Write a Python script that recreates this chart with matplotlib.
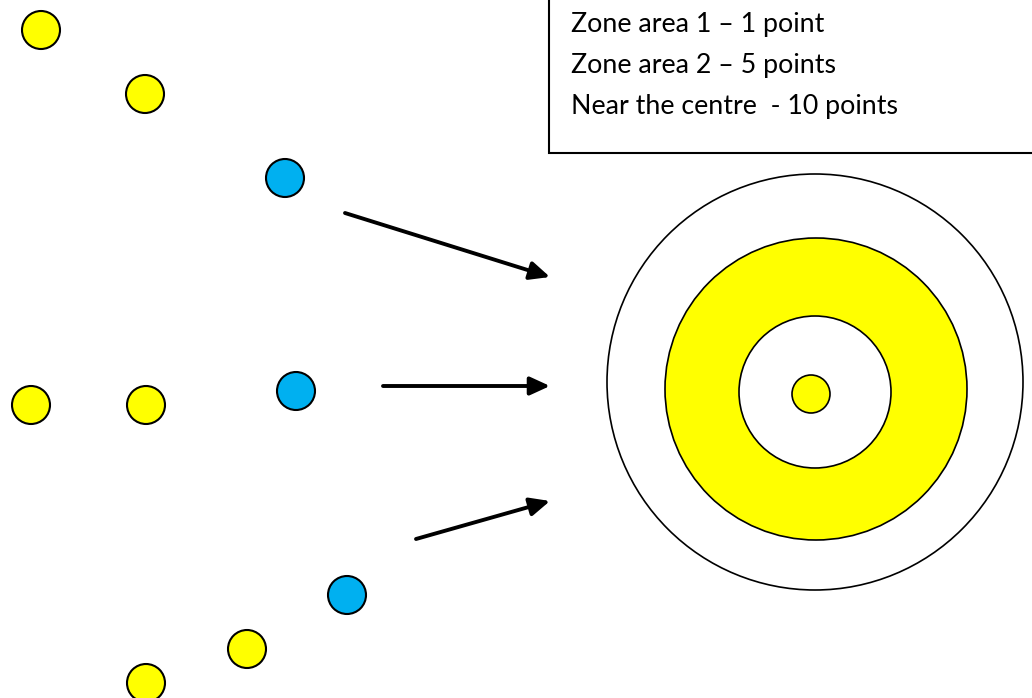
import matplotlib
matplotlib.use("Agg")
import matplotlib.pyplot as plt
from matplotlib.patches import Circle, Rectangle

# ---- data (pixel-space coordinates of the diagram) ----
dot_x = [41, 145, 285, 31, 146, 296, 347, 247, 146]
dot_y = [30, 94, 178, 405, 405, 391, 595, 649, 683]
dot_colors = ["#FFFF00", "#FFFF00", "#00B0F0", "#FFFF00", "#FFFF00",
              "#00B0F0", "#00B0F0", "#FFFF00", "#FFFF00"]
dot_radius = 19

target_cx = [815, 816, 815, 811]
target_cy = [382, 389, 392, 394]
target_r = [208, 151, 76, 19]
target_fill = ["#FFFFFF", "#FFFF00", "#FFFFFF", "#FFFF00"]

arrow_start_x = [345, 383, 416]
arrow_start_y = [213, 386, 539]
arrow_end_x = [550, 550, 550]
arrow_end_y = [277, 386, 501]

legend_lines = ["Zone area 1 \u2013 1 point",
                "Zone area 2 \u2013 5 points",
                "Near the centre  - 10 points"]
legend_baseline = [32, 73, 114]

W, H = 1032, 698
fig = plt.figure(figsize=(W / 100, H / 100), dpi=100)
ax = fig.add_axes([0, 0, 1, 1])
ax.set_xlim(0, W)
ax.set_ylim(H, 0)
ax.set_aspect("equal")
ax.axis("off")

# target rings
for cx, cy, r, fc in zip(target_cx, target_cy, target_r, target_fill):
    ax.add_patch(Circle((cx, cy), r, facecolor=fc, edgecolor="black", lw=1.2))

# dots
for x, y, c in zip(dot_x, dot_y, dot_colors):
    ax.add_patch(Circle((x, y), dot_radius, facecolor=c, edgecolor="black", lw=1.5))

# arrows
for sx, sy, ex, ey in zip(arrow_start_x, arrow_start_y, arrow_end_x, arrow_end_y):
    ax.annotate("", xy=(ex, ey), xytext=(sx, sy),
                arrowprops=dict(arrowstyle="-|>,head_length=1.2,head_width=0.55",
                                color="black", lw=2.8, shrinkA=0, shrinkB=0))

# legend box
ax.add_patch(Rectangle((549, -5), 500, 158, facecolor="white",
                       edgecolor="black", lw=1.5, clip_on=True))
for t, y in zip(legend_lines, legend_baseline):
    ax.text(571, y, t, fontsize=19.3, family="Lato", va="baseline", ha="left",
            color="black")

fig.savefig("out.png", dpi=100)
